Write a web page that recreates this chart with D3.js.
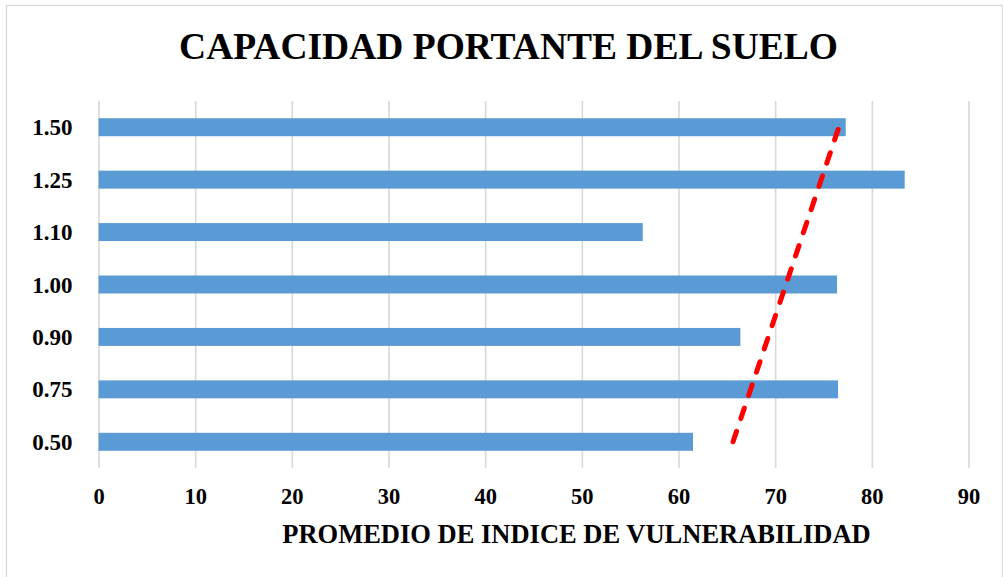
<!DOCTYPE html>
<html>
<head>
<meta charset="utf-8">
<script src="https://cdn.jsdelivr.net/npm/d3@7"></script>
<style>
  body { margin: 0; background: #fff; }
  text { font-family: "Liberation Serif", "Times New Roman", serif; font-weight: bold; fill: #000; }
</style>
</head>
<body>
<script>
//categories (top to bottom as drawn) and averaged vulnerability index
var categorias = ["1.50", "1.25", "1.10", "1.00", "0.90", "0.75", "0.50"];
var promedios = [77.3, 83.4, 56.3, 76.4, 66.4, 76.5, 61.5];
var xTicks = [0, 10, 20, 30, 40, 50, 60, 70, 80, 90];

var w = 1003, h = 577;
var plotLeft = 98.5, plotRight = 968.5, plotTop = 101, plotBottom = 468;

var svg = d3.select("body").append("svg")
    .attr("width", w)
    .attr("height", h);

//chart border
svg.append("rect")
    .attr("x", 6.5).attr("y", 5.5)
    .attr("width", 996).attr("height", 580)
    .style("fill", "#fff")
    .style("stroke", "#d9d9d9")
    .style("stroke-width", 1.3);

var x = d3.scaleLinear().domain([0, 90]).range([plotLeft, plotRight]);
var y = d3.scaleBand().domain(categorias).range([plotTop, plotBottom])
    .paddingInner(0.657).paddingOuter(0.3285);

//vertical gridlines
svg.append("g")
    .attr("class", "grid")
    .attr("transform", "translate(0," + plotBottom + ")")
    .call(d3.axisBottom(x).tickValues(xTicks).tickSize(-(plotBottom - plotTop)).tickFormat(""))
    .call(function(g){
        g.select(".domain").remove();
        g.selectAll("line").style("stroke", "#d9d9d9").style("stroke-width", 1.6);
    });

//bars
var data = categorias.map(function(c, i){ return { cat: c, val: promedios[i] }; });
svg.selectAll(".bar")
    .data(data)
    .enter()
    .append("rect")
    .attr("class", "bar")
    .attr("x", x(0))
    .attr("y", function(d){ return y(d.cat); })
    .attr("width", function(d){ return x(d.val) - x(0); })
    .attr("height", y.bandwidth())
    .style("fill", "#5b9bd5");

//linear trendline (least squares over category order, bottom category = 1)
var pts = data.slice().reverse().map(function(d, i){ return [i + 1, d.val]; });
var n = pts.length;
var mx = d3.mean(pts, function(p){ return p[0]; });
var my = d3.mean(pts, function(p){ return p[1]; });
var slope = d3.sum(pts, function(p){ return (p[0] - mx) * (p[1] - my); }) /
            d3.sum(pts, function(p){ return (p[0] - mx) * (p[0] - mx); });
var icpt = my - slope * mx;
var revCats = categorias.slice().reverse();
var trend = [1, n].map(function(i){
    return { cat: revCats[i - 1], val: icpt + slope * i };
});
var line = d3.line()
    .x(function(d){ return x(d.val); })
    .y(function(d){ return y(d.cat) + y.bandwidth() / 2; });
svg.append("path")
    .datum(trend)
    .attr("d", line)
    .style("fill", "none")
    .style("stroke", "#ff0000")
    .style("stroke-width", 5)
    .style("stroke-linecap", "round")
    .style("stroke-dasharray", "11,13.5");

//y axis labels
svg.append("g")
    .attr("transform", "translate(" + (plotLeft - 26) + ",0)")
    .call(d3.axisLeft(y).tickSize(0).tickPadding(0))
    .call(function(g){
        g.select(".domain").remove();
        g.selectAll("text")
            .style("font-size", "23px")
            .style("font-family", "'Liberation Serif', serif")
            .style("font-weight", "bold")
            .attr("dy", "0.35em");
    });

//x axis labels
svg.append("g")
    .attr("transform", "translate(0," + plotBottom + ")")
    .call(d3.axisBottom(x).tickValues(xTicks).tickSize(0).tickPadding(20))
    .call(function(g){
        g.select(".domain").remove();
        g.selectAll("text")
            .style("font-size", "22.5px")
            .style("font-family", "'Liberation Serif', serif")
            .style("font-weight", "bold");
    });

//title
svg.append("text")
    .attr("x", 508.5)
    .attr("y", 59)
    .attr("text-anchor", "middle")
    .style("font-size", "37.5px")
    .text("CAPACIDAD PORTANTE DEL SUELO");

//x axis title
svg.append("text")
    .attr("x", 576.5)
    .attr("y", 543)
    .attr("text-anchor", "middle")
    .style("font-size", "26.5px")
    .text("PROMEDIO DE INDICE DE VULNERABILIDAD");
</script>
</body>
</html>
